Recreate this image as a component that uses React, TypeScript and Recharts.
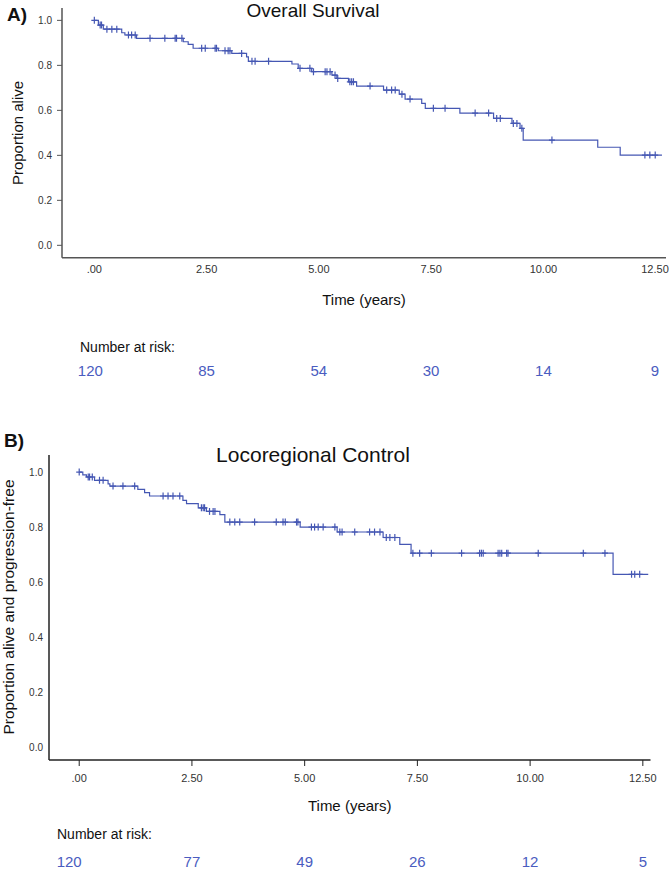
import { ComposedChart, Line, Scatter, XAxis, YAxis } from 'recharts';

// Overall survival: step times (years) and proportion alive after each step
const OS_TIMES = [0, 0.09, 0.2, 0.61, 0.68, 0.94, 1.98, 2.09, 2.2, 2.76, 3.06, 3.39, 3.43, 4.4, 4.54, 4.84, 5.29, 5.4, 5.66, 5.84, 6.44, 6.79, 6.92, 7.29, 7.37, 8.14, 8.89, 9.3, 9.48, 9.55, 11.21, 11.71];
const OS_SURV = [1.0, 0.979, 0.961, 0.945, 0.935, 0.92, 0.905, 0.893, 0.876, 0.865, 0.853, 0.838, 0.818, 0.806, 0.787, 0.772, 0.757, 0.742, 0.727, 0.708, 0.69, 0.672, 0.65, 0.631, 0.609, 0.588, 0.564, 0.542, 0.52, 0.468, 0.436, 0.401];
const OS_END = 12.64;
const OS_CENSOR = [0.0, 0.13, 0.16, 0.28, 0.39, 0.5, 0.76, 0.83, 0.91, 1.24, 1.57, 1.8, 1.83, 1.95, 2.39, 2.47, 2.69, 2.72, 2.91, 2.98, 3.02, 3.28, 3.51, 3.58, 3.88, 4.58, 4.8, 4.88, 5.14, 5.18, 5.25, 5.36, 5.42, 5.69, 5.73, 5.77, 6.14, 6.51, 6.62, 6.7, 6.85, 7.03, 7.55, 7.81, 8.48, 8.78, 8.96, 9.04, 9.33, 9.41, 9.52, 10.19, 12.26, 12.37, 12.49];
const OS_RISK = [120, 85, 54, 30, 14, 9];

// Locoregional control
const LC_TIMES = [0, 0.08, 0.16, 0.34, 0.64, 0.68, 1.3, 1.45, 1.56, 2.3, 2.38, 2.64, 2.82, 3.12, 3.23, 4.9, 5.72, 6.74, 7.11, 7.36, 11.84];
const LC_SURV = [1.0, 0.99, 0.982, 0.97, 0.957, 0.949, 0.937, 0.925, 0.913, 0.897, 0.885, 0.87, 0.857, 0.845, 0.818, 0.8, 0.782, 0.762, 0.737, 0.705, 0.628];
const LC_END = 12.62;
const LC_CENSOR = [0.0, 0.2, 0.23, 0.29, 0.45, 0.53, 0.75, 0.97, 1.23, 1.86, 1.97, 2.08, 2.23, 2.71, 2.75, 2.78, 2.89, 2.97, 3.01, 3.34, 3.45, 3.56, 3.89, 4.37, 4.52, 4.57, 4.82, 4.85, 5.15, 5.22, 5.3, 5.41, 5.67, 5.78, 5.83, 6.11, 6.44, 6.55, 6.67, 6.81, 6.89, 7.0, 7.4, 7.55, 7.81, 8.48, 8.88, 8.92, 8.96, 9.29, 9.33, 9.37, 9.48, 9.51, 10.18, 11.18, 11.66, 12.25, 12.32, 12.43];
const LC_RISK = [120, 77, 49, 26, 12, 5];

const X_TICKS = [0, 2.5, 5, 7.5, 10, 12.5];
const Y_TICKS = [0, 0.2, 0.4, 0.6, 0.8, 1.0];

const BLUE = '#4557b3';
const FONT = "'Liberation Sans', Arial, sans-serif";

function stepData(times: number[], surv: number[], end: number) {
  const pts = times.map((t, i) => ({ t, s: surv[i] }));
  pts.push({ t: end, s: surv[surv.length - 1] });
  return pts;
}

// censored cases sit on the curve level in force at their time
function censorData(censor: number[], times: number[], surv: number[]) {
  return censor.map((c) => {
    let idx = 0;
    for (let i = 0; i < times.length; i++) if (times[i] <= c) idx = i;
    return { t: c, s: surv[idx] };
  });
}

const CensorMark = (props: any) => {
  const { cx, cy } = props;
  if (cx == null || cy == null) return null;
  return (
    <g stroke={BLUE} strokeWidth={1.2}>
      <line x1={cx} y1={cy - 3.5} x2={cx} y2={cy + 3.5} />
      <line x1={cx - 3} y1={cy} x2={cx + 3} y2={cy} />
    </g>
  );
};

const fmtX = (v: number) => (v === 0 ? '.00' : v.toFixed(2));

interface PanelProps {
  letter: string;
  title: string;
  yLabel: string;
  times: number[];
  surv: number[];
  end: number;
  censor: number[];
  risk: number[];
  height: number;
  yAxisWidth: number;
  marginTop: number;
  marginRight: number;
  xDomain: [number, number];
  yDomain: [number, number];
  xAxisHeight: number;
  axisColor: string;
  xTickLine: boolean;
  yTickLine: boolean;
  titleY: number;
  titleSize: number;
  letterY: number;
  letterX: number;
  yLabelX: number;
  yLabelY: number;
  yLabelSize: number;
  timeOffset: number;
  riskLabelX: number;
  riskLabelY: number;
  riskDy: number;
  firstRiskDx: number;
}

function KMPanel(p: PanelProps) {
  const line = stepData(p.times, p.surv, p.end);
  const marks = censorData(p.censor, p.times, p.surv);

  // tick label plus the number at risk underneath it
  const TimeTick = (props: any) => {
    const { x, y, payload } = props;
    const i = X_TICKS.indexOf(payload.value);
    return (
      <g>
        <text x={x} y={y} dy="0.71em" textAnchor="middle" fontSize={11} fontFamily={FONT} fill="#333">
          {fmtX(payload.value)}
        </text>
        <text
          x={x + (i === 0 ? p.firstRiskDx : 0)}
          y={y + p.riskDy}
          textAnchor="middle"
          dominantBaseline="central"
          fontSize={15}
          fontFamily={FONT}
          fill="#4a5cc0"
        >
          {p.risk[i]}
        </text>
      </g>
    );
  };

  return (
    <ComposedChart
      width={669}
      height={p.height}
      margin={{ top: p.marginTop, right: p.marginRight, left: 0, bottom: 0 }}
      style={{ fontFamily: FONT }}
    >
      <XAxis
        type="number"
        dataKey="t"
        domain={p.xDomain}
        allowDataOverflow
        ticks={X_TICKS}
        height={p.xAxisHeight}
        tickLine={p.xTickLine ? { stroke: p.axisColor } : false}
        tickSize={p.xTickLine ? 6 : 0}
        tickMargin={p.xTickLine ? 8 : 7}
        axisLine={{ stroke: p.axisColor, strokeWidth: 1.5 }}
        tick={<TimeTick />}
        label={{ value: 'Time (years)', position: 'insideBottom', offset: p.timeOffset, fontSize: 15, fill: '#111', fontFamily: FONT }}
      />
      <YAxis
        type="number"
        dataKey="s"
        domain={p.yDomain}
        allowDataOverflow
        ticks={Y_TICKS}
        tickFormatter={(v: number) => v.toFixed(1)}
        width={p.yAxisWidth}
        tickLine={p.yTickLine ? { stroke: p.axisColor } : false}
        tickSize={p.yTickLine ? 5 : 0}
        tickMargin={p.yTickLine ? 5 : 6}
        axisLine={{ stroke: p.axisColor, strokeWidth: 1.5 }}
        tick={{ fontSize: 10, fill: '#333', fontFamily: FONT }}
      />
      <Line
        data={line}
        type="stepAfter"
        dataKey="s"
        stroke={BLUE}
        strokeWidth={1.2}
        dot={false}
        isAnimationActive={false}
      />
      <Scatter data={marks} dataKey="s" shape={<CensorMark />} isAnimationActive={false} />
      <text x={p.letterX} y={p.letterY} fontSize={19} fontWeight="bold" fontFamily={FONT} fill="#111">
        {p.letter}
      </text>
      <text x={313} y={p.titleY} textAnchor="middle" fontSize={p.titleSize} fontFamily={FONT} fill="#111">
        {p.title}
      </text>
      <text
        x={p.yLabelX}
        y={p.yLabelY}
        transform={`rotate(-90 ${p.yLabelX} ${p.yLabelY})`}
        textAnchor="middle"
        dominantBaseline="central"
        fontSize={p.yLabelSize}
        fontFamily={FONT}
        fill="#111"
      >
        {p.yLabel}
      </text>
      <text x={p.riskLabelX} y={p.riskLabelY} dominantBaseline="central" fontSize={14} fontFamily={FONT} fill="#111">
        Number at risk:
      </text>
    </ComposedChart>
  );
}

export default function App() {
  return (
    <div style={{ position: 'absolute', left: 0, top: 0, width: 669, height: 871, background: '#fff' }}>
      <KMPanel
        letter="A)"
        title="Overall Survival"
        yLabel="Proportion alive"
        times={OS_TIMES}
        surv={OS_SURV}
        end={OS_END}
        censor={OS_CENSOR}
        risk={OS_RISK}
        height={400}
        yAxisWidth={62}
        marginTop={8}
        marginRight={3}
        xDomain={[-0.72, 12.73]}
        yDomain={[-0.055, 1.055]}
        xAxisHeight={142.3}
        axisColor="#555"
        xTickLine={false}
        yTickLine={true}
        titleY={17}
        titleSize={19}
        letterY={21}
        letterX={7}
        yLabelX={17}
        yLabelY={133}
        yLabelSize={15}
        timeOffset={95.3}
        riskLabelX={80}
        riskLabelY={347}
        riskDy={105.3}
        firstRiskDx={-4}
      />
      <KMPanel
        letter="B)"
        title="Locoregional Control"
        yLabel="Proportion alive and progression-free"
        times={LC_TIMES}
        surv={LC_SURV}
        end={LC_END}
        censor={LC_CENSOR}
        risk={LC_RISK}
        height={471}
        yAxisWidth={49}
        marginTop={55}
        marginRight={18.5}
        xDomain={[-0.67, 12.67]}
        yDomain={[-0.047, 1.062]}
        xAxisHeight={111}
        axisColor="#222"
        xTickLine={true}
        yTickLine={false}
        titleY={61.5}
        titleSize={21}
        letterY={46.5}
        letterX={4}
        yLabelX={8.5}
        yLabelY={207}
        yLabelSize={15.5}
        timeOffset={60}
        riskLabelX={57}
        riskLabelY={434}
        riskDy={87}
        firstRiskDx={-10}
      />
    </div>
  );
}
